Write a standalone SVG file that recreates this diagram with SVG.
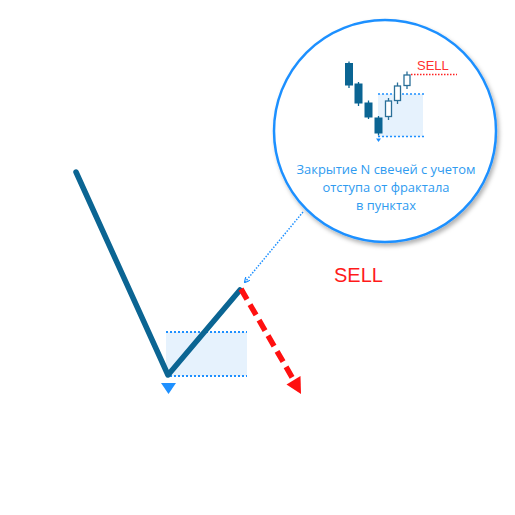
<svg xmlns="http://www.w3.org/2000/svg" width="515" height="515" viewBox="0 0 515 515">
<defs>
<filter id="sh" x="-20%" y="-20%" width="140%" height="140%">
<feDropShadow dx="2" dy="3" stdDeviation="2" flood-color="#000" flood-opacity="0.3"/>
</filter>
<marker id="blueArr" markerWidth="6" markerHeight="6" refX="5" refY="3" orient="auto" markerUnits="userSpaceOnUse">
<path d="M0,0 L6,3 L0,6" fill="none" stroke="#1e90ff" stroke-width="1.2"/>
</marker>
</defs>
<style>
.bear{fill:#0b6593;stroke:#0b6593;stroke-width:1}
.bull{fill:#fff;stroke:#2a6f98;stroke-width:1.3}
.wick{stroke:#0b6593;stroke-width:1.3}
.wickb{stroke:#2a6f98;stroke-width:1.3}
.zone{fill:#e6f2fd}
.dot{stroke:#1e90ff;stroke-width:2;stroke-dasharray:2 2;fill:none}
.cap{font-family:"Open Sans","Noto Sans",sans-serif;font-size:12.9px;fill:#2f9bf0;text-anchor:middle}
</style>
<rect width="515" height="515" fill="#fff"/>

<g id="zone">
<rect class="zone" x="166" y="332" width="81" height="44"/>
<line class="dot" x1="166" y1="332" x2="247" y2="332"/>
<line class="dot" x1="166" y1="376" x2="247" y2="376"/>
</g>

<g id="price-line">
<polyline points="76,172 168,375 240,290" fill="none" stroke="#0b6593" stroke-width="5.5" stroke-linecap="round" stroke-linejoin="round"/>
</g>

<g id="fractal">
<polygon points="161,383 176,383 168.5,394" fill="#1e90ff"/>
</g>

<g id="connectors">
<line x1="241" y1="289" x2="292.5" y2="378" stroke="#ff1010" stroke-width="5.5" stroke-dasharray="12 6"/>
<polygon points="301,394 286.5,384.5 300.5,376" fill="#ff1010"/>
<line x1="303" y1="212" x2="245" y2="282" stroke="#1e90ff" stroke-width="1.5" stroke-dasharray="1.5 1.5" marker-end="url(#blueArr)"/>
</g>

<g id="sell-label">
<text x="334" y="282" font-family="Liberation Sans, Arial, sans-serif" font-size="20" fill="#ff1a1a">SELL</text>
</g>

<g id="callout">
<circle cx="385" cy="131" r="111" fill="#fff" stroke="#1e90ff" stroke-width="2.5" filter="url(#sh)"/>
<rect class="zone" x="378" y="94" width="45" height="42.5"/>
<line class="dot" x1="378" y1="94" x2="424" y2="94" style="stroke-width:1.5"/>
<line class="dot" x1="378" y1="136.5" x2="424" y2="136.5" style="stroke-width:1.5"/>
<line x1="411" y1="74.5" x2="457" y2="74.5" stroke="#ff2020" stroke-width="1.5" stroke-dasharray="1.5 1.5"/>
<text x="417" y="69.5" font-family="Liberation Sans, Arial, sans-serif" font-size="13" fill="#ff3030">SELL</text>
<line class="wick" x1="349" y1="61.5" x2="349" y2="88"/>
<rect class="bear" x="345.5" y="63.5" width="7" height="21.5"/>
<line class="wick" x1="358.5" y1="82" x2="358.5" y2="106"/>
<rect class="bear" x="355" y="84" width="7" height="19"/>
<line class="wick" x1="368.5" y1="100.5" x2="368.5" y2="119"/>
<rect class="bear" x="365" y="103" width="7" height="14"/>
<line class="wick" x1="378.5" y1="116" x2="378.5" y2="135.5"/>
<rect class="bear" x="375" y="118" width="7" height="15"/>
<polygon points="376,138.5 381,138.5 378.5,142" fill="#1e90ff"/>
<line class="wickb" x1="388.5" y1="98" x2="388.5" y2="120"/>
<rect class="bull" x="385.5" y="101" width="6" height="15.5"/>
<line class="wickb" x1="397.5" y1="82.5" x2="397.5" y2="104"/>
<rect class="bull" x="394.5" y="86" width="6" height="14.5"/>
<line class="wickb" x1="407" y1="71.5" x2="407" y2="89"/>
<rect class="bull" x="404" y="75" width="6" height="10.5"/>
<text class="cap" x="386" y="174">Закрытие N свечей с учетом</text>
<text class="cap" x="386" y="192">отступа от фрактала</text>
<text class="cap" x="386" y="210">в пунктах</text>
</g>
</svg>
